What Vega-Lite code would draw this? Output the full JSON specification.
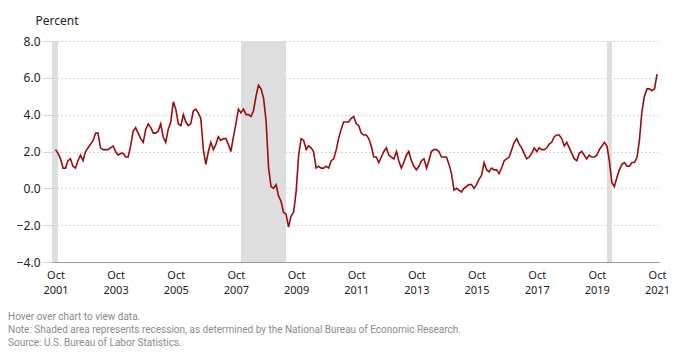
{
  "$schema": "https://vega.github.io/schema/vega-lite/v6.json",
  "autosize": {"type": "none"},
  "padding": {"left": 53, "top": 41, "right": 31, "bottom": 92},
  "width": 606,
  "height": 221,
  "background": "white",
  "config": {
    "view": {"stroke": null},
    "font": "Noto Sans",
    "axisY": {
      "values": [-4, -2, 0, 2, 4, 6, 8],
      "format": ".1f",
      "title": "Percent",
      "titleAngle": 0,
      "titleAlign": "left",
      "titleBaseline": "alphabetic",
      "titleX": -18,
      "titleY": -17,
      "titleFontSize": 12,
      "titleFontWeight": "normal",
      "titleColor": "#222222",
      "labelFontSize": 12,
      "labelColor": "#222222",
      "labelPadding": 3,
      "labelOverlap": false,
      "labelFlush": false,
      "tickColor": "#ccd6eb",
      "tickSize": 10,
      "domain": true,
      "domainColor": "#7f7f7f",
      "domainWidth": 1.5,
      "zindex": 1,
      "grid": true,
      "gridColor": "#aaaaaa",
      "gridDash": [1, 3],
      "gridWidth": 1
    }
  },
  "title": {
    "text": ["Hover over chart to view data.", "Note: Shaded area represents recession, as determined by the National Bureau of Economic Research.", "Source: U.S. Bureau of Labor Statistics."],
    "orient": "bottom",
    "anchor": "start",
    "frame": "group",
    "dx": -45,
    "offset": 17,
    "fontSize": 10,
    "font": "Roboto",
    "fontWeight": "normal",
    "color": "#8c8c8c",
    "lineHeight": 13,
    "baseline": "top"
  },
  "datasets": {
    "recessions": [
      {"start": "2001-03-01", "end": "2001-11-01"},
      {"start": "2007-12-01", "end": "2009-06-01"},
      {"start": "2020-02-01", "end": "2020-04-01"}
    ],
    "cpi": [
      {"date": "2001-10-01", "value": 2.1}, {"date": "2001-11-01", "value": 1.9}, {"date": "2001-12-01", "value": 1.6},
      {"date": "2002-01-01", "value": 1.1}, {"date": "2002-02-01", "value": 1.1}, {"date": "2002-03-01", "value": 1.5}, {"date": "2002-04-01", "value": 1.6}, {"date": "2002-05-01", "value": 1.2}, {"date": "2002-06-01", "value": 1.1}, {"date": "2002-07-01", "value": 1.5}, {"date": "2002-08-01", "value": 1.8}, {"date": "2002-09-01", "value": 1.5}, {"date": "2002-10-01", "value": 2.0}, {"date": "2002-11-01", "value": 2.2}, {"date": "2002-12-01", "value": 2.4},
      {"date": "2003-01-01", "value": 2.6}, {"date": "2003-02-01", "value": 3.0}, {"date": "2003-03-01", "value": 3.0}, {"date": "2003-04-01", "value": 2.2}, {"date": "2003-05-01", "value": 2.1}, {"date": "2003-06-01", "value": 2.1}, {"date": "2003-07-01", "value": 2.1}, {"date": "2003-08-01", "value": 2.2}, {"date": "2003-09-01", "value": 2.3}, {"date": "2003-10-01", "value": 2.0}, {"date": "2003-11-01", "value": 1.8}, {"date": "2003-12-01", "value": 1.9},
      {"date": "2004-01-01", "value": 1.9}, {"date": "2004-02-01", "value": 1.7}, {"date": "2004-03-01", "value": 1.7}, {"date": "2004-04-01", "value": 2.3}, {"date": "2004-05-01", "value": 3.1}, {"date": "2004-06-01", "value": 3.3}, {"date": "2004-07-01", "value": 3.0}, {"date": "2004-08-01", "value": 2.7}, {"date": "2004-09-01", "value": 2.5}, {"date": "2004-10-01", "value": 3.2}, {"date": "2004-11-01", "value": 3.5}, {"date": "2004-12-01", "value": 3.3},
      {"date": "2005-01-01", "value": 3.0}, {"date": "2005-02-01", "value": 3.0}, {"date": "2005-03-01", "value": 3.1}, {"date": "2005-04-01", "value": 3.5}, {"date": "2005-05-01", "value": 2.8}, {"date": "2005-06-01", "value": 2.5}, {"date": "2005-07-01", "value": 3.2}, {"date": "2005-08-01", "value": 3.6}, {"date": "2005-09-01", "value": 4.7}, {"date": "2005-10-01", "value": 4.3}, {"date": "2005-11-01", "value": 3.5}, {"date": "2005-12-01", "value": 3.4},
      {"date": "2006-01-01", "value": 4.0}, {"date": "2006-02-01", "value": 3.6}, {"date": "2006-03-01", "value": 3.4}, {"date": "2006-04-01", "value": 3.5}, {"date": "2006-05-01", "value": 4.2}, {"date": "2006-06-01", "value": 4.3}, {"date": "2006-07-01", "value": 4.1}, {"date": "2006-08-01", "value": 3.8}, {"date": "2006-09-01", "value": 2.1}, {"date": "2006-10-01", "value": 1.3}, {"date": "2006-11-01", "value": 2.0}, {"date": "2006-12-01", "value": 2.5},
      {"date": "2007-01-01", "value": 2.1}, {"date": "2007-02-01", "value": 2.4}, {"date": "2007-03-01", "value": 2.8}, {"date": "2007-04-01", "value": 2.6}, {"date": "2007-05-01", "value": 2.7}, {"date": "2007-06-01", "value": 2.7}, {"date": "2007-07-01", "value": 2.4}, {"date": "2007-08-01", "value": 2.0}, {"date": "2007-09-01", "value": 2.8}, {"date": "2007-10-01", "value": 3.5}, {"date": "2007-11-01", "value": 4.3}, {"date": "2007-12-01", "value": 4.1},
      {"date": "2008-01-01", "value": 4.3}, {"date": "2008-02-01", "value": 4.0}, {"date": "2008-03-01", "value": 4.0}, {"date": "2008-04-01", "value": 3.9}, {"date": "2008-05-01", "value": 4.2}, {"date": "2008-06-01", "value": 5.0}, {"date": "2008-07-01", "value": 5.6}, {"date": "2008-08-01", "value": 5.4}, {"date": "2008-09-01", "value": 4.9}, {"date": "2008-10-01", "value": 3.7}, {"date": "2008-11-01", "value": 1.1}, {"date": "2008-12-01", "value": 0.1},
      {"date": "2009-01-01", "value": 0.0}, {"date": "2009-02-01", "value": 0.2}, {"date": "2009-03-01", "value": -0.4}, {"date": "2009-04-01", "value": -0.7}, {"date": "2009-05-01", "value": -1.3}, {"date": "2009-06-01", "value": -1.4}, {"date": "2009-07-01", "value": -2.1}, {"date": "2009-08-01", "value": -1.5}, {"date": "2009-09-01", "value": -1.3}, {"date": "2009-10-01", "value": -0.2}, {"date": "2009-11-01", "value": 1.8}, {"date": "2009-12-01", "value": 2.7},
      {"date": "2010-01-01", "value": 2.6}, {"date": "2010-02-01", "value": 2.1}, {"date": "2010-03-01", "value": 2.3}, {"date": "2010-04-01", "value": 2.2}, {"date": "2010-05-01", "value": 2.0}, {"date": "2010-06-01", "value": 1.1}, {"date": "2010-07-01", "value": 1.2}, {"date": "2010-08-01", "value": 1.1}, {"date": "2010-09-01", "value": 1.1}, {"date": "2010-10-01", "value": 1.2}, {"date": "2010-11-01", "value": 1.1}, {"date": "2010-12-01", "value": 1.5},
      {"date": "2011-01-01", "value": 1.6}, {"date": "2011-02-01", "value": 2.1}, {"date": "2011-03-01", "value": 2.7}, {"date": "2011-04-01", "value": 3.2}, {"date": "2011-05-01", "value": 3.6}, {"date": "2011-06-01", "value": 3.6}, {"date": "2011-07-01", "value": 3.6}, {"date": "2011-08-01", "value": 3.8}, {"date": "2011-09-01", "value": 3.9}, {"date": "2011-10-01", "value": 3.5}, {"date": "2011-11-01", "value": 3.4}, {"date": "2011-12-01", "value": 3.0},
      {"date": "2012-01-01", "value": 2.9}, {"date": "2012-02-01", "value": 2.9}, {"date": "2012-03-01", "value": 2.7}, {"date": "2012-04-01", "value": 2.3}, {"date": "2012-05-01", "value": 1.7}, {"date": "2012-06-01", "value": 1.7}, {"date": "2012-07-01", "value": 1.4}, {"date": "2012-08-01", "value": 1.7}, {"date": "2012-09-01", "value": 2.0}, {"date": "2012-10-01", "value": 2.2}, {"date": "2012-11-01", "value": 1.8}, {"date": "2012-12-01", "value": 1.7},
      {"date": "2013-01-01", "value": 1.6}, {"date": "2013-02-01", "value": 2.0}, {"date": "2013-03-01", "value": 1.5}, {"date": "2013-04-01", "value": 1.1}, {"date": "2013-05-01", "value": 1.4}, {"date": "2013-06-01", "value": 1.8}, {"date": "2013-07-01", "value": 2.0}, {"date": "2013-08-01", "value": 1.5}, {"date": "2013-09-01", "value": 1.2}, {"date": "2013-10-01", "value": 1.0}, {"date": "2013-11-01", "value": 1.2}, {"date": "2013-12-01", "value": 1.5},
      {"date": "2014-01-01", "value": 1.6}, {"date": "2014-02-01", "value": 1.1}, {"date": "2014-03-01", "value": 1.5}, {"date": "2014-04-01", "value": 2.0}, {"date": "2014-05-01", "value": 2.1}, {"date": "2014-06-01", "value": 2.1}, {"date": "2014-07-01", "value": 2.0}, {"date": "2014-08-01", "value": 1.7}, {"date": "2014-09-01", "value": 1.7}, {"date": "2014-10-01", "value": 1.7}, {"date": "2014-11-01", "value": 1.3}, {"date": "2014-12-01", "value": 0.8},
      {"date": "2015-01-01", "value": -0.1}, {"date": "2015-02-01", "value": 0.0}, {"date": "2015-03-01", "value": -0.1}, {"date": "2015-04-01", "value": -0.2}, {"date": "2015-05-01", "value": 0.0}, {"date": "2015-06-01", "value": 0.1}, {"date": "2015-07-01", "value": 0.2}, {"date": "2015-08-01", "value": 0.2}, {"date": "2015-09-01", "value": 0.0}, {"date": "2015-10-01", "value": 0.2}, {"date": "2015-11-01", "value": 0.5}, {"date": "2015-12-01", "value": 0.7},
      {"date": "2016-01-01", "value": 1.4}, {"date": "2016-02-01", "value": 1.0}, {"date": "2016-03-01", "value": 0.9}, {"date": "2016-04-01", "value": 1.1}, {"date": "2016-05-01", "value": 1.0}, {"date": "2016-06-01", "value": 1.0}, {"date": "2016-07-01", "value": 0.8}, {"date": "2016-08-01", "value": 1.1}, {"date": "2016-09-01", "value": 1.5}, {"date": "2016-10-01", "value": 1.6}, {"date": "2016-11-01", "value": 1.7}, {"date": "2016-12-01", "value": 2.1},
      {"date": "2017-01-01", "value": 2.5}, {"date": "2017-02-01", "value": 2.7}, {"date": "2017-03-01", "value": 2.4}, {"date": "2017-04-01", "value": 2.2}, {"date": "2017-05-01", "value": 1.9}, {"date": "2017-06-01", "value": 1.6}, {"date": "2017-07-01", "value": 1.7}, {"date": "2017-08-01", "value": 1.9}, {"date": "2017-09-01", "value": 2.2}, {"date": "2017-10-01", "value": 2.0}, {"date": "2017-11-01", "value": 2.2}, {"date": "2017-12-01", "value": 2.1},
      {"date": "2018-01-01", "value": 2.1}, {"date": "2018-02-01", "value": 2.2}, {"date": "2018-03-01", "value": 2.4}, {"date": "2018-04-01", "value": 2.5}, {"date": "2018-05-01", "value": 2.8}, {"date": "2018-06-01", "value": 2.9}, {"date": "2018-07-01", "value": 2.9}, {"date": "2018-08-01", "value": 2.7}, {"date": "2018-09-01", "value": 2.3}, {"date": "2018-10-01", "value": 2.5}, {"date": "2018-11-01", "value": 2.2}, {"date": "2018-12-01", "value": 1.9},
      {"date": "2019-01-01", "value": 1.6}, {"date": "2019-02-01", "value": 1.5}, {"date": "2019-03-01", "value": 1.9}, {"date": "2019-04-01", "value": 2.0}, {"date": "2019-05-01", "value": 1.8}, {"date": "2019-06-01", "value": 1.6}, {"date": "2019-07-01", "value": 1.8}, {"date": "2019-08-01", "value": 1.7}, {"date": "2019-09-01", "value": 1.7}, {"date": "2019-10-01", "value": 1.8}, {"date": "2019-11-01", "value": 2.1}, {"date": "2019-12-01", "value": 2.3},
      {"date": "2020-01-01", "value": 2.5}, {"date": "2020-02-01", "value": 2.3}, {"date": "2020-03-01", "value": 1.5}, {"date": "2020-04-01", "value": 0.3}, {"date": "2020-05-01", "value": 0.1}, {"date": "2020-06-01", "value": 0.6}, {"date": "2020-07-01", "value": 1.0}, {"date": "2020-08-01", "value": 1.3}, {"date": "2020-09-01", "value": 1.4}, {"date": "2020-10-01", "value": 1.2}, {"date": "2020-11-01", "value": 1.2}, {"date": "2020-12-01", "value": 1.4},
      {"date": "2021-01-01", "value": 1.4}, {"date": "2021-02-01", "value": 1.7}, {"date": "2021-03-01", "value": 2.6}, {"date": "2021-04-01", "value": 4.2}, {"date": "2021-05-01", "value": 5.0}, {"date": "2021-06-01", "value": 5.4}, {"date": "2021-07-01", "value": 5.4}, {"date": "2021-08-01", "value": 5.3}, {"date": "2021-09-01", "value": 5.4}, {"date": "2021-10-01", "value": 6.2}
    ]
  },
  "layer": [
    {
      "data": {"name": "recessions"},
      "mark": {"type": "rect", "color": "#dedede", "clip": true},
      "encoding": {
        "x": {"field": "start", "type": "temporal", "title": null, "scale": {"type": "utc", "domain": ["2001-09-01", "2021-10-25"]}},
        "x2": {"field": "end"}
      }
    },
    {
      "mark": {"type": "rule", "color": "#bbbbbb", "strokeWidth": 1},
      "encoding": {"y": {"datum": 0, "type": "quantitative", "title": "Percent", "scale": {"domain": [-4, 8], "nice": false, "zero": false}}}
    },
    {
      "data": {"name": "cpi"},
      "mark": {"type": "line", "color": "#9b0d0d", "strokeWidth": 1.6, "interpolate": "linear"},
      "encoding": {
        "x": {
          "field": "date",
          "type": "temporal",
          "title": null,
          "scale": {"type": "utc", "domain": ["2001-09-01", "2021-10-25"]},
          "axis": {
            "title": null,
            "grid": false,
            "ticks": false,
            "domain": true,
            "domainColor": "#999999",
            "domainWidth": 1,
            "zindex": 1,
            "values": [
              {"year": 2001, "month": 10, "date": 1, "utc": true},
              {"year": 2003, "month": 10, "date": 1, "utc": true},
              {"year": 2005, "month": 10, "date": 1, "utc": true},
              {"year": 2007, "month": 10, "date": 1, "utc": true},
              {"year": 2009, "month": 10, "date": 1, "utc": true},
              {"year": 2011, "month": 10, "date": 1, "utc": true},
              {"year": 2013, "month": 10, "date": 1, "utc": true},
              {"year": 2015, "month": 10, "date": 1, "utc": true},
              {"year": 2017, "month": 10, "date": 1, "utc": true},
              {"year": 2019, "month": 10, "date": 1, "utc": true},
              {"year": 2021, "month": 10, "date": 1, "utc": true}
            ],
            "labelExpr": "[utcFormat(datum.value, '%b'), utcFormat(datum.value, '%Y')]",
            "labelFontSize": 11,
            "labelColor": "#222222",
            "labelPadding": 7,
            "labelBaseline": "top",
            "labelLineHeight": 15,
            "labelAlign": "center",
            "labelOverlap": false,
            "labelBound": false,
            "labelFlush": false
          }
        },
        "y": {
          "field": "value",
          "type": "quantitative",
          "title": "Percent",
          "scale": {"domain": [-4, 8], "nice": false, "zero": false}
        }
      }
    }
  ]
}
